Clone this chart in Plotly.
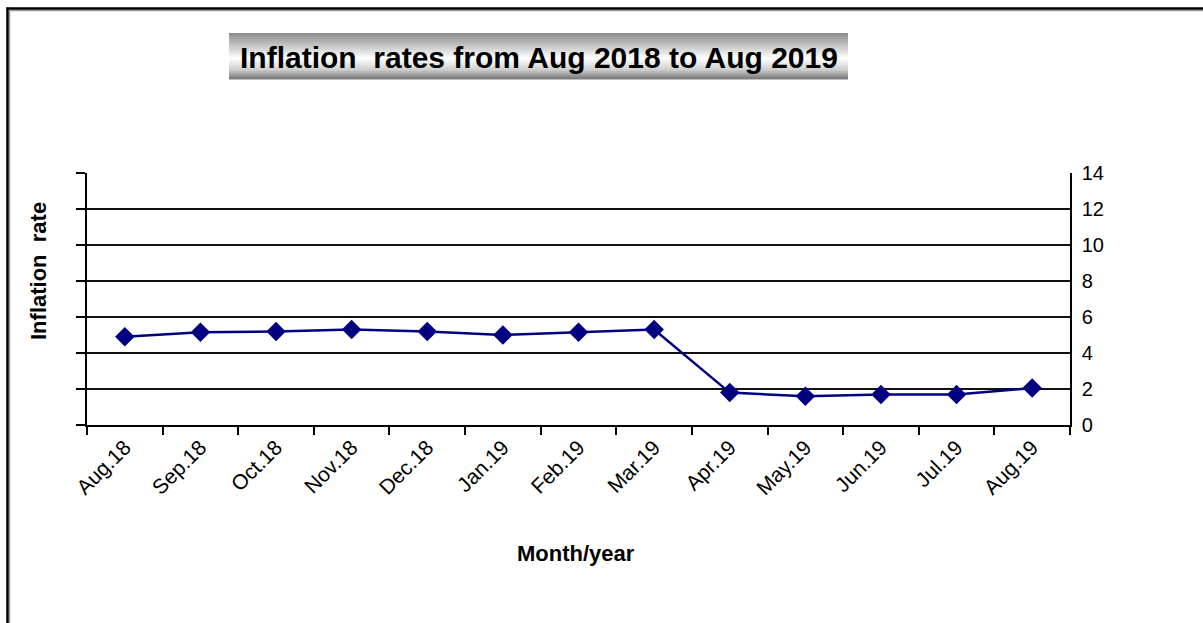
import plotly.graph_objects as go

# Monthly inflation rates
months = ["Aug.18", "Sep.18", "Oct.18", "Nov.18", "Dec.18", "Jan.19", "Feb.19",
          "Mar.19", "Apr.19", "May.19", "Jun.19", "Jul.19", "Aug.19"]
inflation = [4.9, 5.15, 5.2, 5.3, 5.2, 5.0, 5.15, 5.3, 1.8, 1.6, 1.7, 1.7, 2.05]

y_ticks = [0, 2, 4, 6, 8, 10, 12, 14]

W, H = 1203, 623
L, R, T, B = 87, 1070, 173, 425   # plot-area edges in pixels


def px(x):
    return (x - L) / (R - L)


def py(y):
    return (B - y) / (B - T)


FONT = "Liberation Sans, Arial, sans-serif"

fig = go.Figure()
fig.add_trace(go.Scatter(
    x=months, y=inflation, mode="lines+markers",
    line=dict(color="#000080", width=2.5),
    marker=dict(symbol="diamond", size=15, color="#000080"),
    showlegend=False, hoverinfo="x+y",
))
# invisible twin trace to carry the right-hand value axis
fig.add_trace(go.Scatter(x=months, y=inflation, yaxis="y2", mode="none",
                         showlegend=False, hoverinfo="skip"))

shapes = []

# outer chart frame (shadow + black edge)
shapes.append(dict(type="line", xref="paper", yref="paper", x0=px(9.5), x1=px(1203),
                   y0=py(10.5), y1=py(10.5), line=dict(color="#9a9a9a", width=1.5)))
shapes.append(dict(type="line", xref="paper", yref="paper", x0=px(9.5), x1=px(9.5),
                   y0=py(10.5), y1=py(623), line=dict(color="#9a9a9a", width=1.5)))
shapes.append(dict(type="line", xref="paper", yref="paper", x0=px(6.5), x1=px(1203),
                   y0=py(8.5), y1=py(8.5), line=dict(color="black", width=2.5)))
shapes.append(dict(type="line", xref="paper", yref="paper", x0=px(7.5), x1=px(7.5),
                   y0=py(7.5), y1=py(623), line=dict(color="black", width=2.5)))

# metallic gradient behind the title
bx0, bx1, by0, by1 = 229, 848, 33, 79
n = 23
stops = [(0.0, 140), (0.12, 165), (0.55, 255), (0.8, 205), (1.0, 118)]


def shade(t):
    for (t0, v0), (t1, v1) in zip(stops, stops[1:]):
        if t0 <= t <= t1:
            return v0 + (v1 - v0) * (t - t0) / (t1 - t0)
    return stops[-1][1]


step = (by1 - by0) / n
for i in range(n):
    v = int(round(shade((i + 0.5) / n)))
    shapes.append(dict(type="rect", xref="paper", yref="paper",
                       x0=px(bx0), x1=px(bx1),
                       y0=py(by0 + i * step), y1=py(by0 + (i + 1) * step + 0.6),
                       fillcolor=f"rgb({v},{v},{v})", line=dict(width=0), layer="below"))

annotations = [
    dict(text="<b>Inflation  rates from Aug 2018 to Aug 2019</b>", xref="paper", yref="paper",
         x=px((bx0 + bx1) / 2), y=py((by0 + by1) / 2 + 1), showarrow=False,
         xanchor="center", yanchor="middle", font=dict(family=FONT, size=30, color="black")),
    dict(text="<b>Month/year</b>", xref="paper", yref="paper",
         x=px(576), y=py(553), showarrow=False, xanchor="center", yanchor="middle",
         font=dict(family=FONT, size=22, color="black")),
    dict(text="<b>Inflation  rate</b>", xref="paper", yref="paper",
         x=px(38), y=py(271), showarrow=False, textangle=-90,
         xanchor="center", yanchor="middle", font=dict(family=FONT, size=22, color="black")),
]

fig.update_layout(
    width=W, height=H, autosize=False,
    margin=dict(l=L, r=W - R, t=T, b=H - B, pad=0),
    paper_bgcolor="white", plot_bgcolor="white",
    font=dict(family=FONT, color="black"),
    shapes=shapes, annotations=annotations,
    xaxis=dict(
        type="category", range=[-0.5, len(months) - 0.5],
        tickmode="array", tickvals=months, ticktext=months,
        tickson="boundaries", ticks="outside", ticklen=8, tickcolor="black", tickwidth=1.5,
        showline=True, linecolor="black", linewidth=1.5, showgrid=False,
        tickangle=-45, tickfont=dict(family=FONT, size=21, color="black"),
        fixedrange=True,
    ),
    yaxis=dict(
        range=[0, 14], tickvals=y_ticks, showticklabels=False,
        ticks="outside", ticklen=9, tickcolor="black", tickwidth=1.5,
        showline=True, linecolor="black", linewidth=1.5,
        showgrid=True, gridcolor="#111111", gridwidth=1.5, zeroline=False,
        fixedrange=True,
    ),
    yaxis2=dict(
        range=[0, 14], tickvals=y_ticks, ticktext=[str(v) for v in y_ticks],
        overlaying="y", side="right", ticks="", showgrid=False, zeroline=False,
        showline=True, linecolor="black", linewidth=1.5,
        tickfont=dict(family=FONT, size=20, color="black"), ticklabelstandoff=6,
        fixedrange=True,
    ),
)

fig.write_html("out.html")
